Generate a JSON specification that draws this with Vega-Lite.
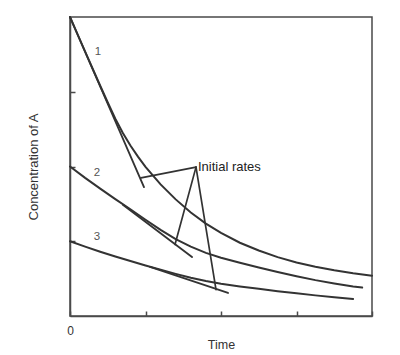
{
  "$schema": "https://vega.github.io/schema/vega-lite/v6.json",
  "width": 302,
  "height": 299,
  "autosize": {"type": "none"},
  "padding": {"left": 70, "top": 17, "right": 28, "bottom": 39},
  "background": "white",
  "config": {
    "font": "Liberation Sans",
    "view": {"stroke": "#4a4a4a", "strokeWidth": 1.5, "fill": "white"},
    "axis": {
      "domainColor": "#4a4a4a",
      "domainWidth": 1.5,
      "tickColor": "#4a4a4a",
      "tickWidth": 1.5,
      "grid": false,
      "labelColor": "#333",
      "titleColor": "#333",
      "titleFontWeight": "normal",
      "titleFontSize": 12.5,
      "labelFontSize": 12
    }
  },
  "datasets": {
    "lines": [
      {"id": "c1", "kind": "curve", "t": 0, "c": 1.0},
      {"id": "c1", "kind": "curve", "t": 0.1, "c": 0.942},
      {"id": "c1", "kind": "curve", "t": 0.2, "c": 0.884},
      {"id": "c1", "kind": "curve", "t": 0.3, "c": 0.827},
      {"id": "c1", "kind": "curve", "t": 0.4, "c": 0.77},
      {"id": "c1", "kind": "curve", "t": 0.5, "c": 0.714},
      {"id": "c1", "kind": "curve", "t": 0.6, "c": 0.66},
      {"id": "c1", "kind": "curve", "t": 0.7, "c": 0.612},
      {"id": "c1", "kind": "curve", "t": 0.8, "c": 0.57},
      {"id": "c1", "kind": "curve", "t": 0.9, "c": 0.533},
      {"id": "c1", "kind": "curve", "t": 1.0, "c": 0.499},
      {"id": "c1", "kind": "curve", "t": 1.2, "c": 0.44},
      {"id": "c1", "kind": "curve", "t": 1.4, "c": 0.39},
      {"id": "c1", "kind": "curve", "t": 1.6, "c": 0.346},
      {"id": "c1", "kind": "curve", "t": 1.8, "c": 0.309},
      {"id": "c1", "kind": "curve", "t": 2.0, "c": 0.278},
      {"id": "c1", "kind": "curve", "t": 2.25, "c": 0.245},
      {"id": "c1", "kind": "curve", "t": 2.5, "c": 0.219},
      {"id": "c1", "kind": "curve", "t": 2.75, "c": 0.197},
      {"id": "c1", "kind": "curve", "t": 3.0, "c": 0.179},
      {"id": "c1", "kind": "curve", "t": 3.25, "c": 0.165},
      {"id": "c1", "kind": "curve", "t": 3.5, "c": 0.153},
      {"id": "c1", "kind": "curve", "t": 3.75, "c": 0.143},
      {"id": "c1", "kind": "curve", "t": 4.0, "c": 0.135},
      {"id": "c2", "kind": "curve", "t": 0, "c": 0.5},
      {"id": "c2", "kind": "curve", "t": 0.2, "c": 0.462},
      {"id": "c2", "kind": "curve", "t": 0.4, "c": 0.426},
      {"id": "c2", "kind": "curve", "t": 0.6, "c": 0.391},
      {"id": "c2", "kind": "curve", "t": 0.8, "c": 0.357},
      {"id": "c2", "kind": "curve", "t": 1.0, "c": 0.322},
      {"id": "c2", "kind": "curve", "t": 1.2, "c": 0.288},
      {"id": "c2", "kind": "curve", "t": 1.4, "c": 0.257},
      {"id": "c2", "kind": "curve", "t": 1.6, "c": 0.232},
      {"id": "c2", "kind": "curve", "t": 1.8, "c": 0.211},
      {"id": "c2", "kind": "curve", "t": 2.0, "c": 0.195},
      {"id": "c2", "kind": "curve", "t": 2.25, "c": 0.178},
      {"id": "c2", "kind": "curve", "t": 2.5, "c": 0.162},
      {"id": "c2", "kind": "curve", "t": 2.75, "c": 0.147},
      {"id": "c2", "kind": "curve", "t": 3.0, "c": 0.133},
      {"id": "c2", "kind": "curve", "t": 3.25, "c": 0.12},
      {"id": "c2", "kind": "curve", "t": 3.5, "c": 0.109},
      {"id": "c2", "kind": "curve", "t": 3.75, "c": 0.099},
      {"id": "c2", "kind": "curve", "t": 3.87, "c": 0.095},
      {"id": "c3", "kind": "curve", "t": 0, "c": 0.25},
      {"id": "c3", "kind": "curve", "t": 0.2, "c": 0.232},
      {"id": "c3", "kind": "curve", "t": 0.4, "c": 0.215},
      {"id": "c3", "kind": "curve", "t": 0.6, "c": 0.199},
      {"id": "c3", "kind": "curve", "t": 0.8, "c": 0.184},
      {"id": "c3", "kind": "curve", "t": 1.0, "c": 0.169},
      {"id": "c3", "kind": "curve", "t": 1.2, "c": 0.155},
      {"id": "c3", "kind": "curve", "t": 1.4, "c": 0.141},
      {"id": "c3", "kind": "curve", "t": 1.6, "c": 0.128},
      {"id": "c3", "kind": "curve", "t": 1.8, "c": 0.117},
      {"id": "c3", "kind": "curve", "t": 2.0, "c": 0.108},
      {"id": "c3", "kind": "curve", "t": 2.25, "c": 0.099},
      {"id": "c3", "kind": "curve", "t": 2.5, "c": 0.091},
      {"id": "c3", "kind": "curve", "t": 2.75, "c": 0.083},
      {"id": "c3", "kind": "curve", "t": 3.0, "c": 0.076},
      {"id": "c3", "kind": "curve", "t": 3.25, "c": 0.069},
      {"id": "c3", "kind": "curve", "t": 3.5, "c": 0.063},
      {"id": "c3", "kind": "curve", "t": 3.75, "c": 0.057},
      {"id": "t1", "kind": "tangent", "t": 0, "c": 1.0},
      {"id": "t1", "kind": "tangent", "t": 0.98, "c": 0.431},
      {"id": "t2", "kind": "tangent", "t": 0.7, "c": 0.372},
      {"id": "t2", "kind": "tangent", "t": 1.616, "c": 0.197},
      {"id": "t3", "kind": "tangent", "t": 1.06, "c": 0.164},
      {"id": "t3", "kind": "tangent", "t": 2.093, "c": 0.077},
      {"id": "p1", "kind": "pointer", "t": 0.94, "c": 0.462},
      {"id": "p1", "kind": "pointer", "t": 1.669, "c": 0.498},
      {"id": "p2", "kind": "pointer", "t": 1.391, "c": 0.239},
      {"id": "p2", "kind": "pointer", "t": 1.669, "c": 0.498},
      {"id": "p3", "kind": "pointer", "t": 1.669, "c": 0.498},
      {"id": "p3", "kind": "pointer", "t": 1.934, "c": 0.088}
    ],
    "curveLabels": [
      {"label": "1", "t": 0.371, "c": 0.883},
      {"label": "2", "t": 0.358, "c": 0.478},
      {"label": "3", "t": 0.358, "c": 0.264}
    ],
    "notes": [
      {"label": "Initial rates", "t": 1.695, "c": 0.498}
    ]
  },
  "layer": [
    {
      "data": {"name": "lines"},
      "mark": {"type": "line", "color": "#333", "strokeCap": "round"},
      "encoding": {
        "x": {
          "field": "t",
          "type": "quantitative",
          "scale": {"domain": [0, 4], "nice": false, "zero": false},
          "axis": {
            "values": [0, 1, 2, 3, 4],
            "tickSize": -5,
            "labelExpr": "datum.value == 0 ? '0' : ''",
            "labelFlush": false,
            "labelPadding": 14,
            "labelAngle": 0,
            "title": "Time",
            "titleX": 151,
            "titleY": 32,
            "titleAlign": "center",
            "titleBaseline": "alphabetic"
          }
        },
        "y": {
          "field": "c",
          "type": "quantitative",
          "scale": {"domain": [0, 1], "nice": false},
          "axis": {
            "values": [0.25, 0.5, 0.75],
            "tickSize": -5,
            "labels": false,
            "title": "Concentration of A",
            "titleFontSize": 13,
            "titleX": -33,
            "titleY": 149.5,
            "titleAngle": -90,
            "titleAlign": "center",
            "titleBaseline": "alphabetic"
          }
        },
        "detail": {"field": "id"},
        "strokeWidth": {
          "field": "kind",
          "type": "nominal",
          "scale": {"domain": ["curve", "tangent", "pointer"], "range": [2, 1.7, 1.4]},
          "legend": null
        }
      }
    },
    {
      "data": {"name": "curveLabels"},
      "mark": {"type": "text", "fontSize": 11.5, "color": "#555", "align": "center", "baseline": "middle"},
      "encoding": {
        "x": {"field": "t", "type": "quantitative"},
        "y": {"field": "c", "type": "quantitative"},
        "text": {"field": "label"}
      }
    },
    {
      "data": {"name": "notes"},
      "mark": {"type": "text", "fontSize": 13, "color": "#222", "align": "left", "baseline": "middle"},
      "encoding": {
        "x": {"field": "t", "type": "quantitative"},
        "y": {"field": "c", "type": "quantitative"},
        "text": {"field": "label"}
      }
    }
  ]
}
